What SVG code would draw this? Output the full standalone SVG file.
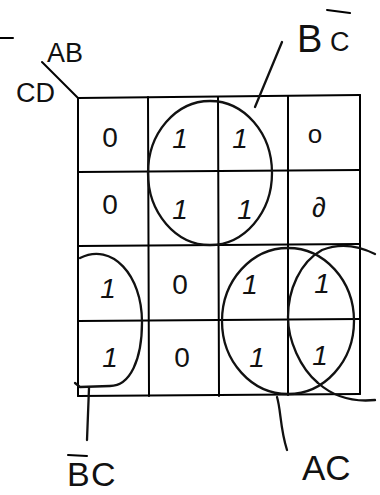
<svg xmlns="http://www.w3.org/2000/svg" width="380" height="495" viewBox="0 0 380 495">
<style>
.g{stroke:#000;stroke-width:2;fill:none;stroke-linecap:round}
.loop{stroke:#111;stroke-width:2.3;fill:none;stroke-linecap:round;stroke-linejoin:round}
.v{font-family:"Liberation Sans",Arial,sans-serif;font-size:28px;fill:#111;text-anchor:middle}
.one{font-style:italic}
.lbl{font-family:"Liberation Sans",Arial,sans-serif;font-size:27px;fill:#111}
</style>
<rect width="380" height="495" fill="#fff"/>
<g id="grid" class="g">
<path d="M78,98 L360,95 M78,172 L360,170 M78,246 L360,244 M78,321 L360,319 M78,396 L360,394"/>
<path d="M78,98 L78,396 M148,97 L149,396 M218,97 L219,396 M288,96 L288,395 M360,95 L360,394"/>
<path d="M42,62 L78,98"/>
<path d="M0,38 L13,38"/>
</g>
<g id="axis-labels">
<text class="lbl" x="47" y="62">AB</text>
<text class="lbl" x="16" y="102">CD</text>
</g>
<g id="cells">
<g id="r1"><text class="v" x="110" y="147">0</text><text class="v one" x="180" y="148">1</text><text class="v one" x="240" y="148">1</text><text class="v" x="315" y="143" style="font-size:26px">o</text></g>
<g id="r2"><text class="v" x="110" y="214">0</text><text class="v one" x="180" y="219">1</text><text class="v one" x="245" y="219">1</text><text class="v" x="319" y="217">∂</text></g>
<g id="r3"><text class="v one" x="108" y="298">1</text><text class="v" x="180" y="294">0</text><text class="v one" x="250" y="294">1</text><text class="v one" x="322" y="293">1</text></g>
<g id="r4"><text class="v one" x="110" y="367">1</text><text class="v" x="182" y="367">0</text><text class="v one" x="257" y="367">1</text><text class="v one" x="320" y="365">1</text></g>
</g>
<g id="connectors">
<ellipse id="loop-BnotC" class="loop" cx="210" cy="173" rx="62" ry="72"/>
<path id="loop-notBC" class="loop" d="M80,258 C112,242 142,275 142,322 C142,360 130,386 110,386 L80,387 L75,383"/>
<ellipse id="loop-AC" class="loop" cx="288" cy="321" rx="66" ry="73"/>
<path id="loop-wrap" class="loop" d="M375,254 C355,244 337,244 322,250 C300,262 288,290 288,317 C288,340 300,368 318,383 C335,398 355,402 375,400"/>
<path class="loop" d="M282,42 L255,107"/>
<path class="loop" d="M89,388 L87,440"/>
<path class="loop" d="M277,397 C281,410 280,428 287,450"/>
</g>
<g id="term-labels">
<text class="lbl" x="297" y="52" style="font-size:38px">B</text>
<text class="lbl" x="330" y="51" style="font-size:27px">C</text>
<path class="g" d="M327,10 L350,13"/>
<text class="lbl" x="67" y="486" style="font-size:34px">B</text>
<text class="lbl" x="91" y="486" style="font-size:34px">C</text>
<path class="g" d="M68,455 L87,456"/>
<text class="lbl" x="302" y="480" style="font-size:35px">AC</text>
</g>
</svg>
